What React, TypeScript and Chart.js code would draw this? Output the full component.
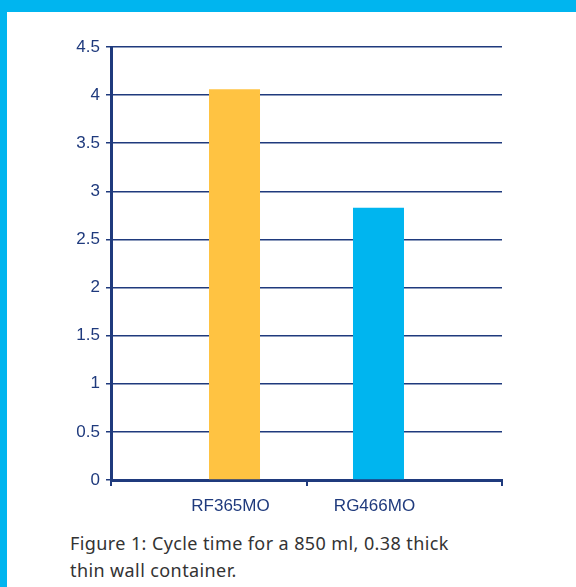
import React, { useEffect, useRef } from 'react';
import { Chart, registerables } from 'chart.js';
Chart.register(...registerables);

const categories = ['RF365MO', 'RG466MO'];
const cycleTimes = [4.06, 2.83];
const barColors = ['#FFC342', '#00B5EF'];
const yMax = 4.5;
const yStep = 0.5;
const caption = 'Figure 1: Cycle time for a 850 ml, 0.38 thick thin wall container.';

const NAVY = '#1F3A7D';
const TICK_FONT = '"Liberation Sans", Arial, sans-serif';

// category labels sit under the bars rather than at the category centres
const barLabels = {
    id: 'barLabels',
    afterDraw(chart: Chart) {
        const { ctx, chartArea } = chart;
        ctx.save();
        ctx.font = `17px ${TICK_FONT}`;
        ctx.fillStyle = NAVY;
        ctx.textAlign = 'center';
        ctx.textBaseline = 'middle';
        categories.forEach((cat, i) => {
            const dsIndex = chart.data.datasets.findIndex(d => d.label === cat);
            const bar = chart.getDatasetMeta(dsIndex).data[i];
            if (bar) ctx.fillText(cat, bar.x - 4, chartArea.bottom + 26);
        });
        ctx.restore();
    },
};

const App: React.FC = () => {
    const canvasRef = useRef<HTMLCanvasElement>(null);
    const chartRef = useRef<Chart | null>(null);

    useEffect(() => {
        if (!canvasRef.current) return;
        if (chartRef.current) chartRef.current.destroy();
        // one dataset per product, reversed so each bar sits on the inner half of its category
        const datasets = categories.map((cat, i) => ({
            label: cat,
            data: categories.map((_, j) => (j === i ? cycleTimes[i] : null)),
            backgroundColor: barColors[i],
            categoryPercentage: 0.527,
            barPercentage: 0.99,
        })).reverse();

        chartRef.current = new Chart(canvasRef.current, {
            type: 'bar',
            data: { labels: categories, datasets },
            plugins: [barLabels],
            options: {
                responsive: false,
                animation: false,
                layout: { padding: { top: 47, right: 74, bottom: 44, left: 0 } },
                plugins: { legend: { display: false }, tooltip: { enabled: false } },
                scales: {
                    x: {
                        grid: { drawOnChartArea: false, drawTicks: true, tickLength: 6, color: NAVY, lineWidth: 2 },
                        border: { color: NAVY, width: 3 },
                        ticks: { display: false },
                    },
                    y: {
                        min: 0,
                        max: yMax,
                        ticks: {
                            stepSize: yStep, color: NAVY, padding: 6,
                            font: { family: TICK_FONT, size: 17 },
                            callback: (v: any) => String(Number(v)),
                        },
                        grid: { color: NAVY, lineWidth: 1.5, tickLength: 5 },
                        border: { color: NAVY, width: 3 },
                        afterFit: (scale: any) => { scale.width = 111; },
                    },
                },
            },
        });
        return () => { if (chartRef.current) chartRef.current.destroy(); };
    }, []);

    return (
        <div style={{
            position: 'fixed', top: 0, left: 0, width: 576, height: 587, boxSizing: 'border-box',
            background: '#ffffff', borderTop: '12px solid #00B5EF', borderLeft: '7px solid #00B5EF',
        }}>
            <canvas ref={canvasRef} width={576} height={530}
                style={{ position: 'absolute', top: -12, left: -7, width: 576, height: 530 }} />
            <div style={{
                position: 'absolute', left: 63, top: 518, width: 390, color: '#333333',
                fontFamily: '"Noto Sans", sans-serif', fontSize: 18, letterSpacing: 0.4, lineHeight: '27px',
            }}>
                {caption}
            </div>
        </div>
    );
};

export default App;
